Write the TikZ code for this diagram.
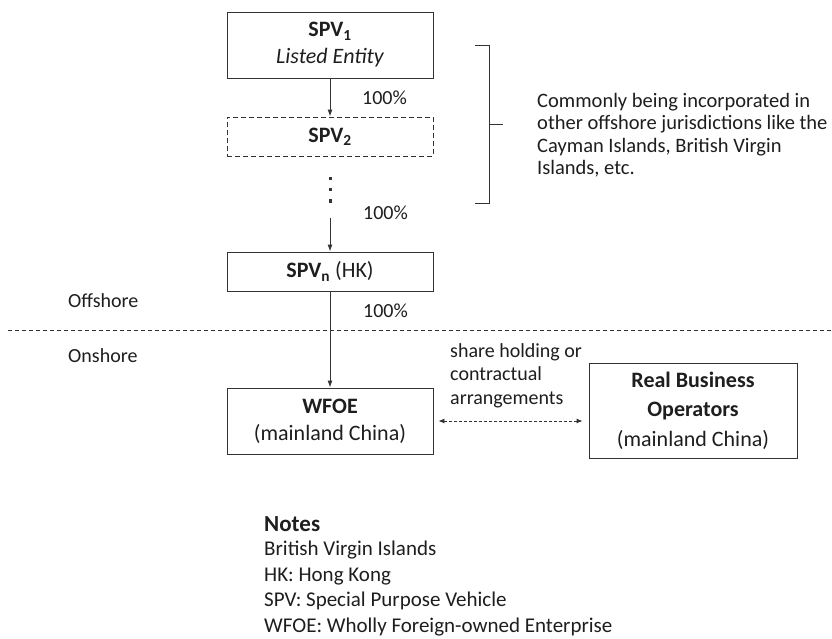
\documentclass[tikz,border=0pt]{standalone}
\usepackage{fontspec}
\setmainfont{Carlito}
\usetikzlibrary{arrows.meta,calc}
\definecolor{linec}{HTML}{333333}
\definecolor{txtc}{HTML}{1E1E1E}
\begin{document}
\begin{tikzpicture}[x=1pt,y=-1pt,
  box/.style={draw=linec, line width=0.9pt, inner sep=0pt, align=center, text=txtc,
    minimum width=206pt, font=\fontsize{22}{27}\selectfont},
  lab/.style={inner sep=0pt, text=txtc, font=\fontsize{20}{24}\selectfont},
  arr/.style={draw=linec, line width=1pt, -{Latex[length=7pt,width=5pt]}},
  darr/.style={draw=linec, line width=0.9pt, dash pattern=on 3pt off 2pt,
    {Latex[length=6pt,width=5pt]}-{Latex[length=6pt,width=5pt]}},
  sepline/.style={draw=linec, line width=0.8pt, dash pattern=on 4pt off 3pt},
  brack/.style={draw=linec, line width=0.9pt}
]
\useasboundingbox (0,0) rectangle (832,639);
\fill[white] (0,0) rectangle (832,639);

% boxes
\node[box, minimum height=66pt] (spv1) at (330,45)
  {{\bfseries SPV\textsubscript{1}}\\{\itshape Listed Entity}};
\node[box, minimum height=39pt, dash pattern=on 5pt off 3pt] (spv2) at (330,136.5)
  {\bfseries SPV\textsubscript{2}};
\node[box, minimum height=39pt] (spvn) at (330,271.5)
  {\textbf{SPV\textsubscript{n}} (HK)};
\node[box, minimum height=66pt] (wfoe) at (330,421)
  {{\bfseries WFOE}\\(mainland China)};
\node[box, minimum width=208pt, minimum height=95pt, font=\fontsize{22}{29.5}\selectfont] (rbo) at (693,410.5)
  {{\bfseries Real Business}\\{\bfseries Operators}\\(mainland China)};

% dots
\coordinate (dots) at (330,190);
\foreach \yy in {-11,0,11} \fill[linec] ($(dots)+(-1.5,\yy-1.5)$) rectangle ++(3,3);
\coordinate (a2) at (330,218);

% arrows
\draw[arr] (spv1.south) -- (spv2.north);
\draw[arr] (a2) -- (spvn.north);
\draw[arr] (spvn.south) -- (wfoe.north);
\coordinate (rbol) at (rbo.west |- wfoe.east);
\draw[darr, shorten <=5pt, shorten >=6pt] (wfoe.east) -- (rbol);

% percentage labels
\node[lab, anchor=west] (p1) at (362,98) {100\%};
\node[lab, anchor=west] (p2) at (363,213) {100\%};
\node[lab, anchor=west] (p3) at (363,311) {100\%};

% offshore / onshore
\coordinate (sepL) at (8,330);
\coordinate (sepR) at (832,330);
\draw[sepline] (sepL) -- (sepR);
\node[lab, anchor=west] (off) at (68,301) {Offshore};
\node[lab, anchor=west] (on) at (68,356) {Onshore};

% bracket
\coordinate (bt) at (475,45);
\coordinate (bb) at (475,203);
\coordinate (bm) at (489,124);
\draw[brack] (bt) -- (489,45) -- (489,203) -- (bb);
\draw[brack] (bm) -- ++(14,0);
\node[inner sep=0pt, anchor=north west, align=left, text=txtc,
  font=\fontsize{20.5}{22.5}\selectfont] (note1) at (537,93)
  {Commonly being incorporated in\\other offshore jurisdictions like the\\Cayman Islands, British Virgin\\Islands, etc.};

% relation label
\node[inner sep=0pt, anchor=north west, align=left, text=txtc,
  font=\fontsize{20}{23.5}\selectfont] (rel) at (450,343)
  {share holding or\\contractual\\arrangements};

% notes
\node[inner sep=0pt, anchor=west, text=txtc, font=\fontsize{23}{26}\selectfont\bfseries] (notes) at (264,524) {Notes};
\node[inner sep=0pt, anchor=north west, align=left, text=txtc,
  font=\fontsize{21}{25.5}\selectfont] (notebody) at (264,541)
  {British Virgin Islands\\HK: Hong Kong\\SPV: Special Purpose Vehicle\\WFOE: Wholly Foreign-owned Enterprise};
\end{tikzpicture}
\end{document}
